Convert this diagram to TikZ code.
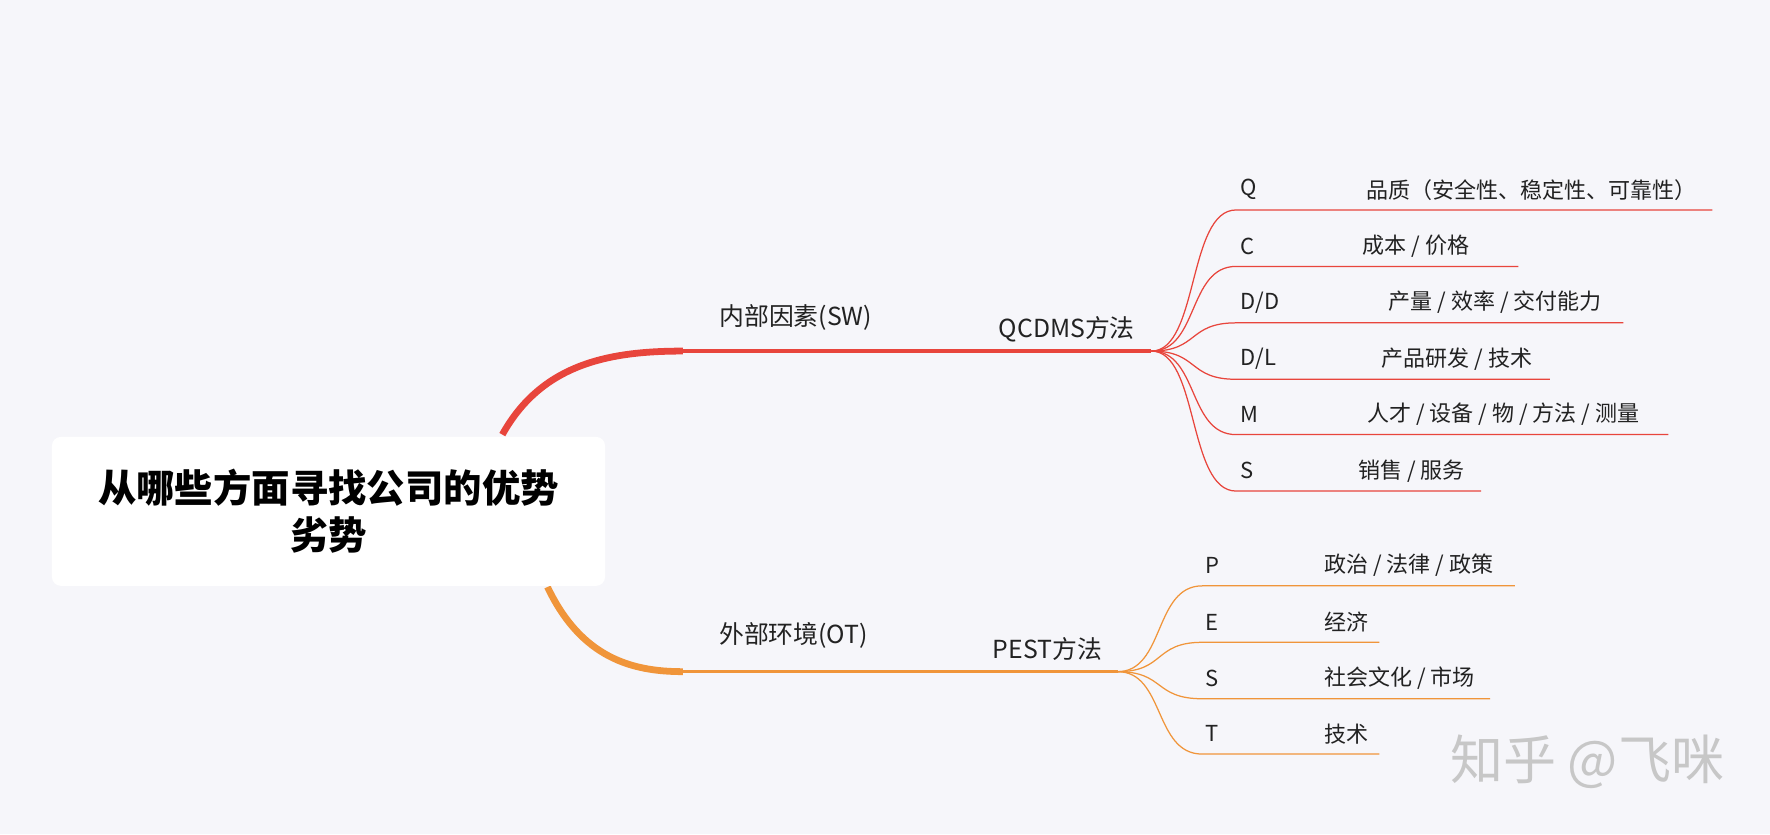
\documentclass[tikz,border=0pt]{standalone}
\usepackage{fontspec}
\setmainfont{Noto Sans CJK SC}
\definecolor{bg}{HTML}{F6F6FA}
\definecolor{rd}{HTML}{E8453C}
\definecolor{og}{HTML}{F0953A}
\definecolor{tx}{HTML}{222222}
\begin{document}
\begin{tikzpicture}[x=1pt,y=-1pt,
  lbl/.style={anchor=west,font=\fontsize{19.5}{22}\selectfont,text=tx,inner sep=0pt},
  br/.style={font=\fontsize{22}{26}\selectfont,text=tx,inner sep=0pt}]
\fill[bg] (0,0) rectangle (1568,739);
\useasboundingbox (0,0) rectangle (1568,739);
% red branch
\coordinate (r0) at (445,385); \coordinate (r1) at (605,311); \coordinate (r2) at (1020,311);
\draw[rd,line width=6pt] (r0) .. controls (480,322) and (540,311) .. (r1);
\draw[rd,line width=3pt] (r1) -- (r2);
\node[br] (sw) at (705,281) {内部因素(SW)};
\node[br] (qc) at (945,292) {QCDMS方法};
% orange branch
\coordinate (o0) at (485,520); \coordinate (o1) at (605,595); \coordinate (o2) at (990,595);
\draw[og,line width=6pt] (o0) .. controls (515,583) and (560,595) .. (o1);
\draw[og,line width=3pt] (o1) -- (o2);
\node[br] (ot) at (703,563) {外部环境(OT)};
\node[br] (pe) at (928,575) {PEST方法};
% root
\node[fill=white,rounded corners=8pt,minimum width=490pt,minimum height=132pt,align=center,
  font=\fontsize{34}{42}\selectfont\bfseries,text=black] (root) at (291,453) {从哪些方面寻找公司的优势\\劣势};
% red children
\foreach \n/\y/\e/\l/\tx/\t in {q/186/1517/Q/1210/{品质（安全性、稳定性、可靠性）},
  c/236/1345/C/1207/{成本 / 价格}, dd/286/1438/{D/D}/1230/{产量 / 效率 / 交付能力},
  dl/336/1373/{D/L}/1224/{产品研发 / 技术}, m/385/1478/M/1211/{人才 / 设备 / 物 / 方法 / 测量},
  s/435/1312/S/1203/{销售 / 服务}}{
  \coordinate (\n a) at (1095,\y); \coordinate (\n b) at (\e,\y);
  \draw[rd,line width=1.1pt] (r2) .. controls (1062,311) and (1052,\y) .. (\n a) -- (\n b);
  \node[lbl] (\n l) at (1099,\y-18) {\l};
  \node[lbl] (\n t) at (\tx,\y-18) {\t};
}
% orange children
\foreach \n/\y/\e/\l/\t in {p/519/1342/P/{政治 / 法律 / 政策}, e/569/1222/E/经济,
  ss/619/1320/S/{社会文化 / 市场}, t/668/1222/T/技术}{
  \coordinate (\n a) at (1065,\y); \coordinate (\n b) at (\e,\y);
  \draw[og,line width=1.1pt] (o2) .. controls (1032,595) and (1022,\y) .. (\n a) -- (\n b);
  \node[lbl] (\n l) at (1068,\y-18) {\l};
  \node[lbl] (\n t) at (1173,\y-18) {\t};
}
\node[font=\fontsize{47}{52}\selectfont,text=black!22,inner sep=0pt] (wm) at (1406,675) {知乎 @飞咪};
\end{tikzpicture}
\end{document}
